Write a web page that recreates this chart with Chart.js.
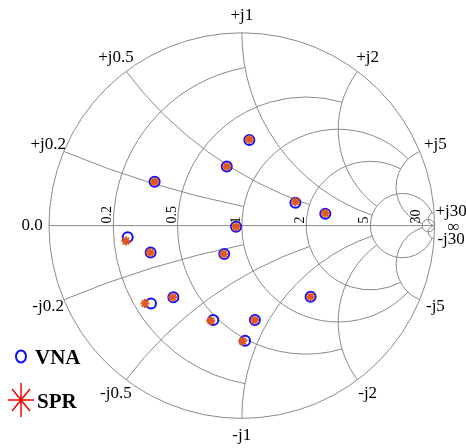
<!DOCTYPE html>
<html>
<head>
<meta charset="utf-8">
<script src="https://cdn.jsdelivr.net/npm/chart.js@4.4.1/dist/chart.umd.min.js"></script>
<style>
html, body { margin: 0; padding: 0; background: #fff; }
</style>
</head>
<body>
<canvas id="smith" width="466" height="448"></canvas>
<script>
// smith grid: circle values and the value of the other coordinate each one stops at
const gridValues = [0.2, 0.5, 1, 2, 5, 30];
const gridLimits = [1, 2, 5, 5, 30, Infinity];
const resistanceLabels = ['0.2', '0.5', '1', '2', '5', '30'];
const upperLabels = ['+j0.2', '+j0.5', '+j1', '+j2', '+j5', '+j30'];
const lowerLabels = ['-j0.2', '-j0.5', '-j1', '-j2', '-j5', '-j30'];

const vnaRe = [0.039, -0.078, -0.452, 0.278, 0.433, -0.030, -0.592, -0.473, -0.091, 0.357, -0.355, -0.471, -0.148, 0.068, 0.017];
const vnaIm = [0.444, 0.306, 0.228, 0.119, 0.062, -0.006, -0.061, -0.140, -0.147, -0.369, -0.372, -0.404, -0.490, -0.490, -0.597];
const sprRe = [0.039, -0.078, -0.452, 0.278, 0.433, -0.030, -0.601, -0.475, -0.093, 0.357, -0.358, -0.502, -0.161, 0.066, 0.004];
const sprIm = [0.447, 0.306, 0.228, 0.124, 0.064, -0.006, -0.080, -0.140, -0.147, -0.369, -0.372, -0.404, -0.493, -0.490, -0.600];

const gridColor = '#8a8a8a';
const serif = '"Liberation Serif", "Times New Roman", serif';

function gamma(r, x) {
    if (!isFinite(r) || !isFinite(x)) {
        return [1, 0];
    }
    const d = (r + 1) * (r + 1) + x * x;
    return [(r * r - 1 + x * x) / d, (2 * x) / d];
}

const smithGrid = {
    id: 'smithGrid',
    beforeDatasetsDraw(chart) {
        const ctx = chart.ctx;
        const xs = chart.scales.x;
        const ys = chart.scales.y;
        const px = (v) => xs.getPixelForValue(v);
        const py = (v) => ys.getPixelForValue(v);
        const kx = px(1) - px(0);
        const ky = py(0) - py(1);
        const TAU = Math.PI * 2;
        const norm = (a) => (a + TAU) % TAU;

        ctx.save();
        ctx.strokeStyle = gridColor;
        ctx.lineWidth = 1;

        // outer circle and real axis
        ctx.beginPath();
        ctx.ellipse(px(0), py(0), kx, ky, 0, 0, TAU);
        ctx.stroke();
        ctx.beginPath();
        ctx.moveTo(px(-1), py(0));
        ctx.lineTo(px(1), py(0));
        ctx.stroke();

        gridValues.forEach((v, i) => {
            const lim = gridLimits[i];

            // constant resistance circle, kept for |x| <= lim
            const c = v / (1 + v);
            const rho = 1 / (1 + v);
            const ge = gamma(v, lim);
            const phi = Math.atan2(ge[1], ge[0] - c);
            ctx.beginPath();
            ctx.ellipse(px(c), py(0), rho * kx, rho * ky, 0, phi, TAU - phi, false);
            ctx.stroke();

            // constant reactance arcs, kept for r <= lim
            const g1 = gamma(0, v);
            const g2 = gamma(lim, v);
            const a1 = norm(Math.atan2(g1[1] - 1 / v, g1[0] - 1));
            const a2 = norm(Math.atan2(g2[1] - 1 / v, g2[0] - 1));
            ctx.beginPath();
            ctx.ellipse(px(1), py(1 / v), kx / v, ky / v, 0, -a1, -a2, true);
            ctx.stroke();
            ctx.beginPath();
            ctx.ellipse(px(1), py(-1 / v), kx / v, ky / v, 0, a1, a2, false);
            ctx.stroke();
        });

        // labels
        ctx.fillStyle = '#000';
        ctx.font = '17px ' + serif;
        ctx.textAlign = 'center';
        ctx.textBaseline = 'middle';
        const out = 1.088;
        gridValues.forEach((v, i) => {
            const t = Math.PI - 2 * Math.atan(v);
            ctx.fillText(upperLabels[i], px(out * Math.cos(t)), py(out * Math.sin(t)));
            ctx.fillText(lowerLabels[i], px(out * Math.cos(t)), py(-out * Math.sin(t)));
        });
        ctx.fillText('0.0', px(-out), py(0));
        ctx.fillText('\u221e', px(1.098), py(-0.012));

        ctx.font = '14px ' + serif;
        ctx.textAlign = 'left';
        ctx.textBaseline = 'alphabetic';
        gridValues.forEach((v, i) => {
            ctx.save();
            ctx.translate(px((v - 1) / (v + 1)) - 2, py(0) - 2);
            ctx.rotate(-Math.PI / 2);
            ctx.fillText(resistanceLabels[i], 0, 0);
            ctx.restore();
        });
        ctx.restore();
    },
    afterDraw(chart) {
        const ctx = chart.ctx;
        const sets = chart.data.datasets;
        const vna = sets.find((d) => d.label === 'VNA');
        const spr = sets.find((d) => d.label === 'SPR');
        ctx.save();

        ctx.strokeStyle = vna.borderColor;
        ctx.lineWidth = 2;
        ctx.beginPath();
        ctx.ellipse(21, 356.5, 5, 6, 0, 0, Math.PI * 2);
        ctx.stroke();

        ctx.strokeStyle = '#ff0000';
        ctx.lineWidth = 1.5;
        ctx.beginPath();
        ctx.moveTo(21, 383); ctx.lineTo(21, 417);
        ctx.moveTo(8, 400); ctx.lineTo(34, 400);
        ctx.moveTo(12, 389); ctx.lineTo(30, 411);
        ctx.moveTo(30, 389); ctx.lineTo(12, 411);
        ctx.stroke();

        ctx.fillStyle = '#000';
        ctx.font = 'bold 21px ' + serif;
        ctx.textAlign = 'left';
        ctx.textBaseline = 'alphabetic';
        ctx.fillText(vna.label, 35, 363.5);
        ctx.fillText(spr.label, 37, 407.5);
        ctx.restore();
    }
};

const toPoints = (re, im) => re.map((v, i) => ({ x: v, y: im[i] }));

new Chart(document.getElementById('smith'), {
    type: 'scatter',
    data: {
        datasets: [
            {
                label: 'SPR',
                data: toPoints(sprRe, sprIm),
                pointStyle: 'star',
                pointRadius: 4.5,
                borderWidth: 2.1,
                borderColor: '#e0581c',
                backgroundColor: '#e0581c',
                order: 0
            },
            {
                label: 'VNA',
                data: toPoints(vnaRe, vnaIm),
                pointStyle: 'circle',
                pointRadius: 5,
                borderWidth: 2,
                borderColor: '#1010ff',
                backgroundColor: 'rgba(0,0,0,0)',
                order: 1
            }
        ]
    },
    options: {
        responsive: false,
        animation: false,
        layout: { padding: { left: 49, right: 31.4, top: 32.8, bottom: 29.6 } },
        plugins: { legend: { display: false }, tooltip: { enabled: false } },
        scales: {
            x: { type: 'linear', min: -1, max: 1, display: false },
            y: { type: 'linear', min: -1, max: 1, display: false }
        }
    },
    plugins: [smithGrid]
});
</script>
</body>
</html>
